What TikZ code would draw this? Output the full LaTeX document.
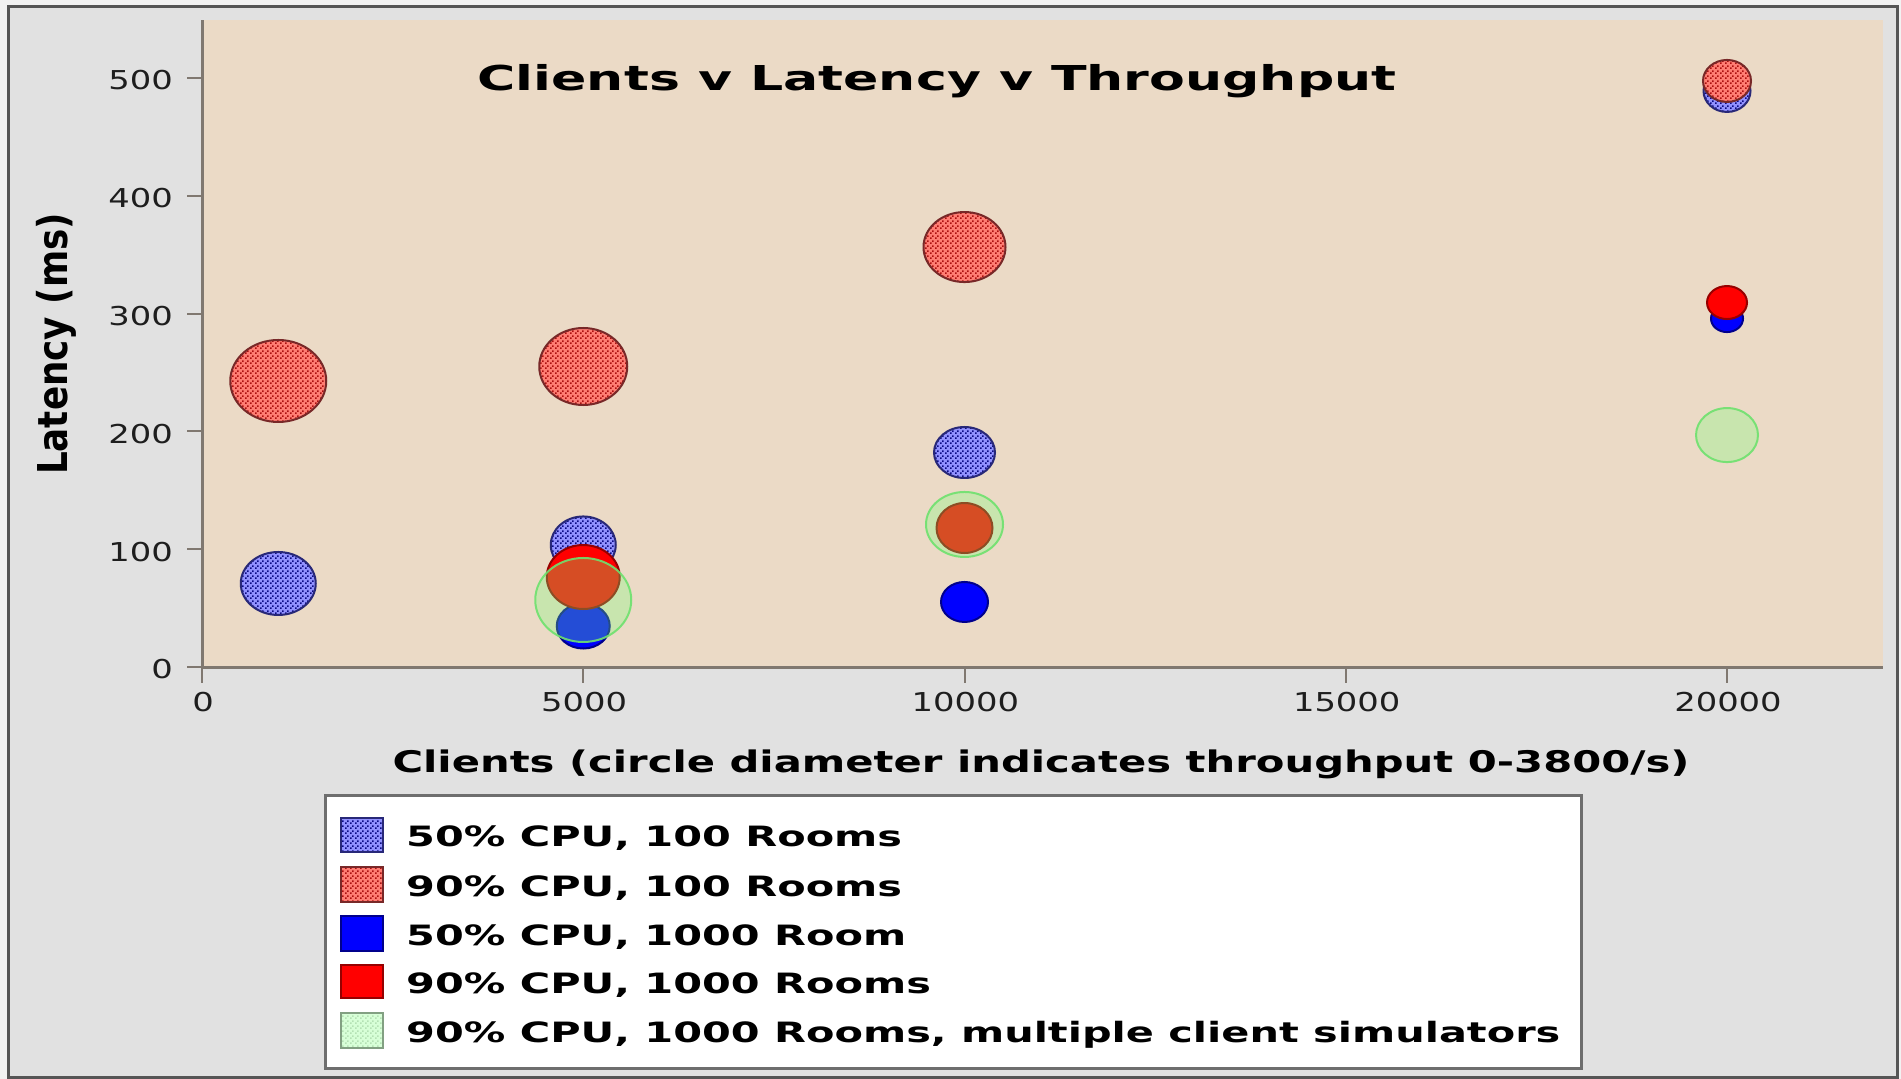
\documentclass[tikz,border=0pt]{standalone}
\usepackage{fontspec}
\newfontfamily\chartfont{DejaVu Sans}
\usetikzlibrary{patterns}

% fine checkerboard used for the hatched series
\pgfdeclarepatternformonly{checks}{\pgfpointorigin}{\pgfqpoint{5pt}{5pt}}{\pgfqpoint{5pt}{5pt}}{%
  \pgfpathrectangle{\pgfpointorigin}{\pgfqpoint{1.8pt}{1.8pt}}%
  \pgfpathrectangle{\pgfqpoint{2.5pt}{2.5pt}}{\pgfqpoint{1.8pt}{1.8pt}}%
  \pgfusepath{fill}}

\definecolor{pagebg}{RGB}{242,242,242}
\definecolor{panelbg}{RGB}{225,225,225}
\definecolor{framec}{RGB}{85,85,85}
\definecolor{plotbg}{RGB}{235,218,198}
\definecolor{axisc}{RGB}{128,120,112}
\definecolor{tickc}{RGB}{30,30,30}
\definecolor{legendedge}{RGB}{110,110,110}
\definecolor{bluebase}{RGB}{145,145,255}
\definecolor{bluedot}{RGB}{10,10,130}
\definecolor{blueedge}{RGB}{40,40,120}
\definecolor{redbase}{RGB}{255,125,115}
\definecolor{reddot}{RGB}{170,15,15}
\definecolor{rededge}{RGB}{120,40,40}
\definecolor{solidblue}{RGB}{0,0,255}
\definecolor{solidblueedge}{RGB}{0,0,140}
\definecolor{solidred}{RGB}{255,0,0}
\definecolor{solidrededge}{RGB}{150,0,0}
\definecolor{greenfill}{RGB}{120,255,120}
\definecolor{greenedge}{RGB}{110,225,110}
\definecolor{legendgreen}{RGB}{215,255,215}
\definecolor{legendgreendot}{RGB}{180,225,180}
\definecolor{legendgreenedge}{RGB}{130,160,130}

% one throughput bubble: style, clients (thousands), latency (ms), width, height
\newcommand{\bubble}[5]{%
  \path[#1] ({202+76.25*#2},{667-1.178*#3}) ellipse [x radius=#4/2, y radius=#5/2];}

\begin{document}
\begin{tikzpicture}[x=1pt, y=-1pt,
  lowcpuhatch/.style={preaction={fill=bluebase}, pattern=checks, pattern color=bluedot, draw=blueedge, line width=2},
  highcpuhatch/.style={preaction={fill=redbase}, pattern=checks, pattern color=reddot, draw=rededge, line width=2},
  lowcpusolid/.style={fill=solidblue, draw=solidblueedge, line width=2},
  highcpusolid/.style={fill=solidred, draw=solidrededge, line width=2},
  multisim/.style={fill=greenfill, fill opacity=0.3, draw=greenedge, draw opacity=0.9, line width=2},
  multiswatch/.style={preaction={fill=legendgreen}, pattern=checks, pattern color=legendgreendot, draw=legendgreenedge, line width=2},
  axisline/.style={draw=axisc, line width=3},
  tickmark/.style={draw=axisc, line width=2},
  ticklabel/.style={font=\chartfont\fontsize{26}{30}\selectfont, text=tickc, inner sep=0},
  titlelabel/.style={font=\chartfont\bfseries\fontsize{34.3}{40}\selectfont, text=black, inner sep=0},
  axistitle/.style={font=\chartfont\bfseries\fontsize{29.8}{34}\selectfont, text=black, inner sep=0},
  legendlabel/.style={font=\chartfont\bfseries\fontsize{28}{32}\selectfont, text=black, inner sep=0, anchor=base west},
]
\useasboundingbox (0,0) rectangle (1901,1079);

% chart panel and plot area
\fill[pagebg] (0,0) rectangle (1901,1079);
\filldraw[fill=panelbg, draw=framec, line width=3] (8,6) rectangle (1897,1077);
\fill[plotbg] (202,20) rectangle (1883,667);

% 50% CPU, 100 rooms
\bubble{lowcpuhatch}{1}{70.9}{75}{63}
\bubble{lowcpuhatch}{5}{103.6}{65}{57}
\bubble{lowcpuhatch}{10}{182.1}{61}{51}
\bubble{lowcpuhatch}{20}{489}{47}{42}
% 90% CPU, 100 rooms
\bubble{highcpuhatch}{1}{242.8}{96}{82}
\bubble{highcpuhatch}{5}{255.1}{88}{77}
\bubble{highcpuhatch}{10}{356.5}{82}{70}
\bubble{highcpuhatch}{20}{497.5}{48}{42}
% 50% CPU, 1000 rooms
\bubble{lowcpusolid}{5}{34.8}{53}{45}
\bubble{lowcpusolid}{10}{55.2}{47}{40}
\bubble{lowcpusolid}{20}{295.8}{32}{27}
% 90% CPU, 1000 rooms
\bubble{highcpusolid}{5}{76.4}{73}{64}
\bubble{highcpusolid}{10}{118}{56}{50}
\bubble{highcpusolid}{20}{309.4}{40}{33}
% 90% CPU, 1000 rooms, several client simulators
\bubble{multisim}{5}{56.9}{96}{84}
\bubble{multisim}{10}{121}{77}{65}
\bubble{multisim}{20}{196.9}{62}{54}

% axes, ticks and tick labels
\draw[axisline] (202,20) -- (202,667) -- (1883,667);
\foreach \v/\t in {0/0,1/100,2/200,3/300,4/400,5/500}{
  \draw[tickmark] (187,{667-117.8*\v}) -- (202,{667-117.8*\v});
  \node[ticklabel, anchor=east] (ylab\v) at (173,{667-117.8*\v+2.5}) {\scalebox{1.3}[1]{\t}};
}
\foreach \k/\t in {0/0,5/5000,10/10000,15/15000,20/20000}{
  \draw[tickmark] ({202+76.25*\k},667) -- ({202+76.25*\k},683);
  \node[ticklabel] (xlab\k) at ({203+76.25*\k},702) {\scalebox{1.3}[1]{\t}};
}

% titles
\node[titlelabel, anchor=base] (title) at (937,90) {\scalebox{1.52}[1]{Clients v Latency v Throughput}};
\node[axistitle, anchor=base] (xtitle) at (1041,772) {\scalebox{1.4}[1]{Clients (circle diameter indicates throughput 0-3800/s)}};
\node[axistitle, anchor=base, rotate=90] (ytitle) at (67,344) {\scalebox{1.2}[1.38]{Latency (ms)}};

% legend
\filldraw[fill=white, draw=legendedge, line width=3] (325,795) rectangle (1581,1068);
\path[lowcpuhatch, line width=1.5] (341,818) rectangle (383,852);
\path[highcpuhatch, line width=1.5] (341,867) rectangle (383,902);
\path[lowcpusolid, line width=1.5] (341,916) rectangle (383,951);
\path[highcpusolid, line width=1.5] (341,965) rectangle (383,998);
\path[multiswatch, line width=1.5] (341,1013) rectangle (383,1048);
\node[legendlabel] (leg1) at (406,846.5) {\scalebox{1.48}[1]{50\% CPU, 100 Rooms}};
\node[legendlabel] (leg2) at (406,896) {\scalebox{1.48}[1]{90\% CPU, 100 Rooms}};
\node[legendlabel] (leg3) at (406,945) {\scalebox{1.48}[1]{50\% CPU, 1000 Room}};
\node[legendlabel] (leg4) at (406,993) {\scalebox{1.48}[1]{90\% CPU, 1000 Rooms}};
\node[legendlabel] (leg5) at (406,1042) {\scalebox{1.48}[1]{90\% CPU, 1000 Rooms, multiple client simulators}};
\end{tikzpicture}
\end{document}
